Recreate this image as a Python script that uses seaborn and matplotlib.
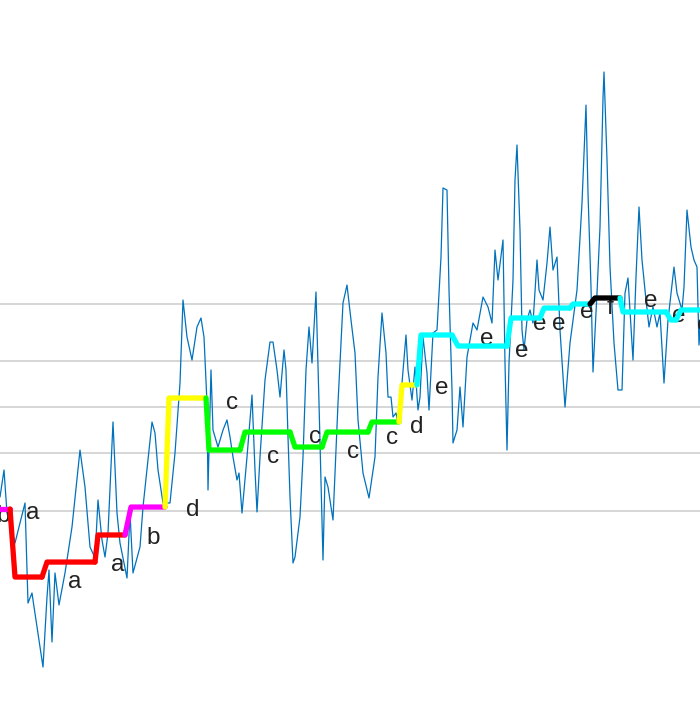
import numpy as np
import pandas as pd
import matplotlib
matplotlib.use("Agg")
import matplotlib.pyplot as plt
import seaborn as sns

# ---------------- data ----------------
# raw (z-normalised) time series
t_series = [0, 4, 7, 15, 25, 28, 32, 33, 43, 47, 49, 52, 55, 59, 65, 72, 80, 85, 90, 95,
            98, 102, 105, 108, 113, 117, 120, 127, 130, 133, 140, 143, 152, 155, 158, 163, 170, 175, 180, 183,
            187, 192, 197, 201, 204, 207, 208, 211, 213, 218, 223, 227, 230, 233, 237, 239, 242, 247, 252, 255,
            257, 260, 265, 270, 273, 277, 280, 284, 286, 288, 290, 293, 295, 300, 303, 306, 309, 312, 316, 319,
            323, 325, 328, 333, 338, 343, 347, 351, 355, 358, 363, 369, 375, 378, 382, 386, 388, 391, 393, 396,
            398, 402, 406, 408, 412, 415, 418, 420, 423, 427, 429, 433, 437, 441, 443, 447, 449, 452, 453, 457,
            460, 463, 467, 473, 477, 483, 488, 492, 495, 498, 503, 505, 507, 509, 513, 515, 517, 520, 522, 524,
            527, 530, 533, 537, 539, 543, 547, 550, 553, 557, 560, 565, 570, 577, 582, 586, 588, 591, 593, 597,
            600, 603, 604, 607, 610, 614, 618, 622, 625, 628, 631, 633, 636, 639, 642, 646, 649, 653, 657, 660,
            664, 668, 674, 677, 682, 684, 687, 691, 694, 697, 699, 702]
v_series = [-0.841, -0.589, -0.991, -1.271, -0.897, -1.832, -1.738, -1.804, -2.430, -1.776,
            -1.523, -2.196, -1.551, -1.850, -1.551, -1.121, -0.402, -0.748, -1.308, -1.411,
            -0.869, -1.243, -1.402, -1.178, -0.140, -0.991, -1.271, -1.598, -0.991, -1.551,
            -1.308, -0.935, -0.140, -0.243, -0.589, -0.897, -0.897, -0.430, 0.224, 1.000,
            0.654, 0.439, 0.748, 0.832, 0.654, 0.037, -0.776, 0.346, -0.215, -0.374,
            -0.215, -0.121, -0.280, -0.467, -0.682, -0.617, -0.991, -0.467, 0.112, -0.589,
            -0.981, -0.467, 0.252, 0.607, 0.607, 0.346, 0.093, 0.533, 0.346, -0.280,
            -0.841, -1.458, -1.402, -1.028, -0.467, 0.346, 0.748, 0.411, 1.075, 0.037,
            -1.430, -0.654, -0.748, -1.056, 0.037, 0.972, 1.140, 0.813, 0.505, -0.121,
            -0.617, -0.850, -0.467, 0.280, 0.879, 0.505, 0.093, 0.093, -0.093, -0.056,
            -0.150, 0.224, 0.673, 0.346, 0.065, 0.374, -0.028, 0.093, 0.654, 0.318,
            -0.028, 0.692, 0.720, 1.402, 2.047, 2.028, 1.093, 0.159, -0.336, -0.215,
            0.187, -0.187, 0.467, 0.785, 0.720, 1.028, 0.935, 0.785, 1.467, 1.187,
            1.561, 0.411, -0.402, 0.411, 1.187, 2.121, 2.449, 1.654, 0.720, 0.533,
            0.813, 0.907, 0.785, 1.374, 1.093, 1.000, 1.346, 1.682, 1.280, 1.402,
            0.720, 0.000, 0.598, 1.093, 1.907, 2.822, 2.000, 1.121, 0.327, 1.065,
            1.682, 2.888, 3.131, 2.308, 1.308, 0.598, 0.159, 0.159, 1.065, 1.206,
            0.748, 0.439, 1.215, 1.869, 1.374, 1.000, 0.748, 0.935, 0.748, 0.879,
            0.224, 0.813, 1.308, 1.065, 0.907, 1.121, 1.841, 1.495, 1.374, 1.308,
            0.579, 1.000]

# symbolic segments (start, end, level, symbol)
seg_start = [-5, 15, 47, 98, 131, 169, 209, 245, 295, 327, 372, 402, 421, 458, 511, 544, 573, 595, 623, 671, 681]
seg_end = [10, 42, 95, 125, 165, 206, 240, 290, 322, 368, 399, 417, 452, 507, 540, 570, 590, 620, 666, 676, 710]
seg_level = [-0.953, -1.589, -1.449, -1.196, -0.935, 0.084, -0.402, -0.234, -0.374, -0.234, -0.140,
             0.206, 0.673, 0.570, 0.832, 0.925, 0.963, 1.019, 0.888, 0.813, 0.907]
seg_symbol = ["b", "a", "a", "a", "b", "d", "c", "c", "c", "c", "c", "d",
              "e", "e", "e", "e", "e", "f", "e", "e", "e"]

# symbol labels
label_t = [3, 33, 75, 118, 153, 193, 232, 273, 315, 353, 392, 417, 442, 487, 522, 540, 559, 587, 610, 651, 679, 704]
label_v = [-1.019, -0.991, -1.636, -1.477, -1.224, -0.963, 0.037, -0.467, -0.280, -0.421, -0.290,
           -0.187, 0.178, 0.636, 0.523, 0.776, 0.776, 0.888, 0.925, 0.991, 0.850, 0.766]
label_text = ["b", "a", "a", "a", "b", "d", "c", "c", "c", "c", "c", "d",
              "e", "e", "e", "e", "e", "e", "f", "e", "e", "e"]

# SAX breakpoints (alphabet size 6)
breakpoints = [-0.9674, -0.4307, 0.0, 0.4307, 0.9674]

symbol_colors = {"a": "#FF0000", "b": "#FF00FF", "c": "#00FF00",
                 "d": "#FFFF00", "e": "#00FFFF", "f": "#000000"}

# ---------------- plot ----------------
sns.set_style("white")
plt.rcParams["font.family"] = ["Liberation Sans", "DejaVu Sans"]

fig = plt.figure(figsize=(7.0, 7.02), dpi=100)
ax = fig.add_axes([0, 0, 1, 1])

series = pd.DataFrame({"t": t_series, "v": v_series})
sns.lineplot(data=series, x="t", y="v", ax=ax, color="#0072BD", lw=0.9,
             estimator=None, sort=False, zorder=1)

prev_end, prev_level = None, None
for s, e, lvl, sym in zip(seg_start, seg_end, seg_level, seg_symbol):
    if prev_end is None:
        xs, ys = [s, e], [lvl, lvl]
    else:
        xs, ys = [prev_end, s, e], [prev_level, lvl, lvl]
    seg = pd.DataFrame({"t": xs, "v": ys})
    sns.lineplot(data=seg, x="t", y="v", ax=ax, color=symbol_colors[sym], lw=3.8,
                 estimator=None, sort=False, zorder=3,
                 solid_joinstyle="round", solid_capstyle="round")
    prev_end, prev_level = e, lvl

for lt, lv, txt in zip(label_t, label_v, label_text):
    ax.text(lt, lv, txt, ha="center", va="center", fontsize=17.5, color="#222222",
            zorder=2)

ax.set_xlim(0, 700)
ax.set_ylim(-2.757, 3.804)
ax.set_yticks(breakpoints)
ax.set_xticks([])
ax.yaxis.grid(True, color="#cfcfcf", lw=1.2)
ax.set_axisbelow(True)
ax.tick_params(left=False, labelleft=False, bottom=False, labelbottom=False)
for sp in ax.spines.values():
    sp.set_visible(False)
ax.set_xlabel("")
ax.set_ylabel("")
if ax.get_legend() is not None:
    ax.get_legend().remove()

fig.savefig("out.png", dpi=100)
